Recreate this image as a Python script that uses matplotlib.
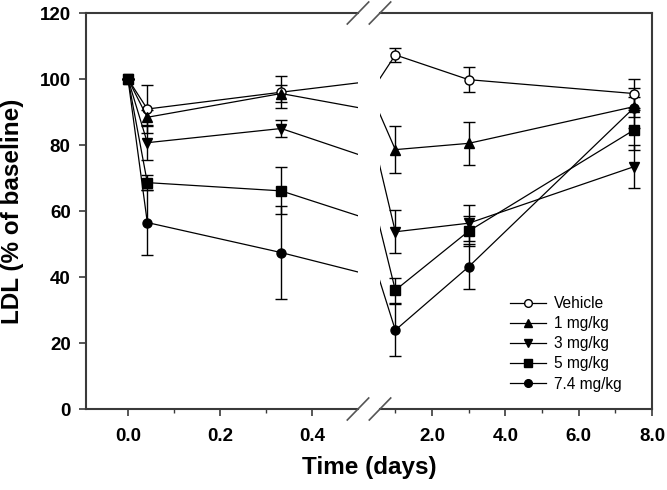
import matplotlib
matplotlib.use("Agg")
import matplotlib.pyplot as plt
from matplotlib.lines import Line2D
from matplotlib.ticker import FixedLocator, FormatStrFormatter

plt.rcParams['font.family'] = ['Liberation Sans', 'DejaVu Sans']

# ---- data ----
time_days = [0.0, 0.042, 0.333, 1.0, 3.0, 7.5]
series_names = ["Vehicle", "1 mg/kg", "3 mg/kg", "5 mg/kg", "7.4 mg/kg"]
vehicle = [100, 90.9, 96.0, 107.3, 99.8, 95.6]
vehicle_err = [0, 7.2, 4.8, 2.0, 3.8, 4.3]
mg1 = [100, 88.4, 95.6, 78.6, 80.5, 91.6]
mg1_err = [0, 2.3, 2.5, 7.2, 6.6, 3.0]
mg3 = [100, 80.7, 85.0, 53.7, 56.3, 73.4]
mg3_err = [0, 5.2, 2.6, 6.5, 5.5, 6.5]
mg5 = [100, 68.6, 66.1, 36.0, 53.9, 84.5]
mg5_err = [0, 2.3, 7.1, 3.8, 4.5, 6.0]
mg74 = [100, 56.5, 47.4, 23.9, 43.1, 91.2]
mg74_err = [0, 9.8, 14.2, 7.8, 6.8, 6.0]

y_ticks = [0, 20, 40, 60, 80, 100, 120]
left_major = [0.0, 0.2, 0.4]
left_minor = [0.1, 0.3]
right_major = [2.0, 4.0, 6.0, 8.0]
right_minor = [1.0, 3.0, 5.0, 7.0]

styles = {
    "Vehicle": dict(marker='o', mfc='white'),
    "1 mg/kg": dict(marker='^', mfc='black'),
    "3 mg/kg": dict(marker='v', mfc='black'),
    "5 mg/kg": dict(marker='s', mfc='black'),
    "7.4 mg/kg": dict(marker='o', mfc='black'),
}
msizes = {"Vehicle": 6.5, "1 mg/kg": 7.5, "3 mg/kg": 7.5, "5 mg/kg": 7.0, "7.4 mg/kg": 6.5}
data = {
    "Vehicle": (vehicle, vehicle_err),
    "1 mg/kg": (mg1, mg1_err),
    "3 mg/kg": (mg3, mg3_err),
    "5 mg/kg": (mg5, mg5_err),
    "7.4 mg/kg": (mg74, mg74_err),
}
draw_order = ["Vehicle", "7.4 mg/kg", "3 mg/kg", "1 mg/kg", "5 mg/kg"]

W, H = 667, 490
fig = plt.figure(figsize=(W / 100, H / 100), dpi=100)
axL = fig.add_axes([86 / W, 1 - 409 / H, 272 / W, 396 / H])
axR = fig.add_axes([380 / W, 1 - 409 / H, 272 / W, 396 / H], sharey=axL)

spine_col = '#3a3a3a'
for ax in (axL, axR):
    for name in draw_order:
        y, e = data[name]
        ax.errorbar(time_days, y, yerr=e, color='black', lw=0.9, elinewidth=1.0,
                    capsize=4, capthick=1.0, mec='black', ms=msizes[name],
                    **styles[name], zorder=3)
    for s in ax.spines.values():
        s.set_color(spine_col)
        s.set_linewidth(1.5)

axL.set_xlim(-0.0913, 0.5)
axR.set_xlim(0.582, 8.0)
axL.set_ylim(0, 120)

axL.spines['right'].set_visible(False)
axR.spines['left'].set_visible(False)

axL.set_yticks(y_ticks)
axL.tick_params(axis='y', direction='out', length=5, width=1.2, color=spine_col, pad=6,
                labelsize=13.5)
axR.tick_params(axis='y', left=False, right=False, labelleft=False)

axL.xaxis.set_major_locator(FixedLocator(left_major))
axL.xaxis.set_minor_locator(FixedLocator(left_minor))
axR.xaxis.set_major_locator(FixedLocator(right_major))
axR.xaxis.set_minor_locator(FixedLocator(right_minor))
for ax in (axL, axR):
    ax.xaxis.set_major_formatter(FormatStrFormatter('%.1f'))
    ax.tick_params(axis='x', which='major', direction='out', length=5, width=1.2,
                   color=spine_col, pad=9, labelsize=13.5)
    ax.tick_params(axis='x', which='minor', direction='out', length=3, width=1.0,
                   color=spine_col)
    ax.tick_params(top=False, right=False, which='both')
    for lab in ax.get_xticklabels() + ax.get_yticklabels():
        lab.set_fontweight('bold')

# break marks
dx = 10.7 / 272
dy = 11 / 396
kw = dict(color='#555555', lw=1.2, clip_on=False, zorder=5)
for yy in (0, 1):
    axL.plot([1 - dx, 1 + dx], [yy - dy, yy + dy], transform=axL.transAxes, **kw)
    axR.plot([-dx, dx], [yy - dy, yy + dy], transform=axR.transAxes, **kw)

axL.set_ylabel("LDL (% of baseline)", fontsize=17.5, fontweight='bold')
axL.yaxis.set_label_coords(-0.228, 0.5)
fig.text(369 / W, 1 - 467 / H, "Time (days)", fontsize=17.5, fontweight='bold',
         ha='center', va='center')

# legend
handles = [Line2D([], [], color='black', lw=0.9, mec='black', ms=msizes[n] * 0.85,
                  **styles[n]) for n in series_names]
axR.legend(handles, series_names, loc='upper left',
           bbox_to_anchor=((510 - 380) / 272, (409 - 296) / 396),
           borderaxespad=0, borderpad=0,
           frameon=False, fontsize=11.2, handlelength=2.3, handletextpad=0.5,
           labelspacing=0.33)

fig.savefig("out.png", dpi=100)
